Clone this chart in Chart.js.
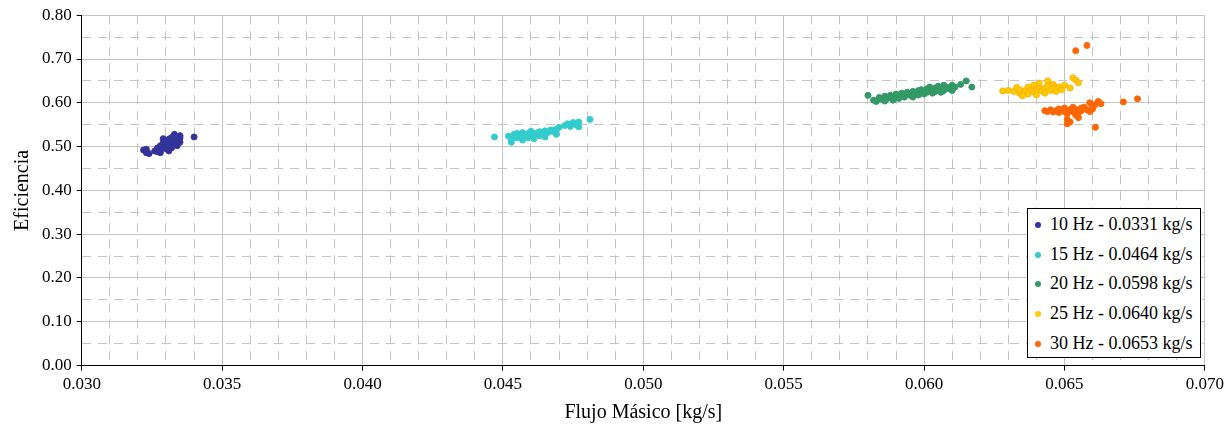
<!DOCTYPE html>
<html>
<head>
<meta charset="utf-8">
<script src="https://cdn.jsdelivr.net/npm/chart.js@4"></script>
<style>
  html, body { margin: 0; padding: 0; background: #fff; overflow: hidden; }
  #wrap { position: relative; width: 1228px; height: 426px; }
  #legend {
    position: absolute; left: 1027px; top: 208px; width: 174px; height: 150px;
    border: 1px solid #000; background: #fff; box-sizing: border-box;
    font-family: 'Liberation Serif', 'Times New Roman', serif; font-size: 18px; color: #000;
    padding-top: 1px;
  }
  #legend .row { height: 29.7px; line-height: 29.7px; white-space: nowrap; position: relative; padding-left: 22px; }
  #legend .dot { position: absolute; left: 7px; top: 12px; width: 6px; height: 6px; border-radius: 50%; }
</style>
</head>
<body>
<div id="wrap">
  <canvas id="effChart"></canvas>
  <div id="legend"></div>
</div>
<script>
const ctx = document.getElementById('effChart').getContext('2d');

const seriesLabels = [
    '10 Hz - 0.0331 kg/s',
    '15 Hz - 0.0464 kg/s',
    '20 Hz - 0.0598 kg/s',
    '25 Hz - 0.0640 kg/s',
    '30 Hz - 0.0653 kg/s'
];

const pointColor = ['#333399', '#33CCCC', '#339966', '#FFCC00', '#FF6600'];
const pointBorder = ['#333399', '#33CCCC', '#339966', '#FFB000', '#FF6600'];

// [flujo masico, eficiencia]
const hz10 = [
    [0.0322,0.492],[0.0323,0.486],[0.0324,0.484],[0.0323,0.494],[0.0326,0.490],[0.0327,0.497],
    [0.0327,0.488],[0.0328,0.502],[0.0328,0.492],[0.0329,0.499],[0.0329,0.508],[0.0329,0.518],
    [0.0330,0.495],[0.0330,0.503],[0.0330,0.512],[0.0331,0.500],[0.0331,0.509],[0.0331,0.517],
    [0.0332,0.504],[0.0332,0.521],[0.0332,0.497],[0.0333,0.512],[0.0333,0.528],[0.0333,0.506],
    [0.0334,0.515],[0.0334,0.502],[0.0335,0.520],[0.0335,0.525],[0.0335,0.510],[0.0340,0.522],
    [0.0330,0.510],[0.0331,0.490],[0.0328,0.486]
];

const hz15 = [
    [0.0447,0.522],[0.0452,0.524],[0.0453,0.516],[0.0453,0.510],[0.0454,0.528],[0.0455,0.520],
    [0.0455,0.530],[0.0456,0.524],[0.0457,0.515],[0.0457,0.532],[0.0458,0.526],[0.0459,0.520],
    [0.0459,0.530],[0.0460,0.535],[0.0460,0.524],[0.0461,0.528],[0.0461,0.518],[0.0462,0.531],
    [0.0463,0.525],[0.0463,0.534],[0.0464,0.529],[0.0465,0.536],[0.0465,0.522],[0.0466,0.532],
    [0.0467,0.538],[0.0468,0.534],[0.0469,0.540],[0.0469,0.528],[0.0470,0.544],[0.0472,0.548],
    [0.0473,0.552],[0.0474,0.546],[0.0475,0.555],[0.0476,0.550],[0.0477,0.556],[0.0477,0.545],
    [0.0481,0.562]
];

const hz20 = [
    [0.0580,0.617],[0.0582,0.606],[0.0583,0.603],[0.0584,0.612],[0.0585,0.608],[0.0586,0.615],
    [0.0586,0.604],[0.0587,0.610],[0.0588,0.617],[0.0588,0.612],[0.0589,0.606],[0.0590,0.614],
    [0.0590,0.620],[0.0591,0.610],[0.0592,0.617],[0.0592,0.622],[0.0593,0.613],[0.0593,0.619],
    [0.0594,0.624],[0.0595,0.617],[0.0595,0.621],[0.0596,0.626],[0.0596,0.613],[0.0597,0.620],
    [0.0597,0.624],[0.0598,0.628],[0.0598,0.618],[0.0599,0.623],[0.0599,0.630],[0.0600,0.626],
    [0.0600,0.620],[0.0601,0.632],[0.0601,0.624],[0.0602,0.628],[0.0602,0.636],[0.0603,0.622],
    [0.0603,0.630],[0.0604,0.634],[0.0604,0.626],[0.0605,0.638],[0.0605,0.630],[0.0606,0.633],
    [0.0606,0.624],[0.0607,0.640],[0.0607,0.628],[0.0608,0.636],[0.0609,0.632],[0.0610,0.640],
    [0.0610,0.628],[0.0611,0.636],[0.0613,0.642],[0.0615,0.650],[0.0617,0.636]
];

const hz25 = [
    [0.0628,0.627],[0.0630,0.628],[0.0632,0.626],[0.0633,0.635],[0.0634,0.622],[0.0634,0.630],
    [0.0635,0.616],[0.0636,0.628],[0.0637,0.636],[0.0637,0.620],[0.0638,0.632],[0.0639,0.625],
    [0.0639,0.640],[0.0640,0.630],[0.0640,0.618],[0.0641,0.636],[0.0641,0.645],[0.0642,0.627],
    [0.0643,0.633],[0.0643,0.622],[0.0644,0.650],[0.0644,0.638],[0.0645,0.628],[0.0646,0.642],
    [0.0646,0.632],[0.0647,0.626],[0.0648,0.636],[0.0649,0.630],[0.0650,0.640],[0.0652,0.634],
    [0.0653,0.657],[0.0654,0.652],[0.0655,0.646]
];

const hz30 = [
    [0.0643,0.582],[0.0644,0.580],[0.0645,0.584],[0.0646,0.579],[0.0647,0.582],[0.0648,0.586],
    [0.0648,0.578],[0.0649,0.583],[0.0650,0.580],[0.0650,0.588],[0.0651,0.575],[0.0651,0.562],
    [0.0651,0.552],[0.0652,0.584],[0.0652,0.556],[0.0653,0.580],[0.0653,0.590],[0.0654,0.585],
    [0.0654,0.572],[0.0655,0.578],[0.0655,0.566],[0.0656,0.588],[0.0656,0.582],[0.0657,0.590],
    [0.0658,0.584],[0.0659,0.580],[0.0659,0.600],[0.0660,0.592],[0.0660,0.586],[0.0661,0.596],
    [0.0661,0.544],[0.0662,0.603],[0.0663,0.598],[0.0671,0.602],[0.0676,0.609],[0.0654,0.719],
    [0.0658,0.731]
];

const allSeries = [hz10, hz15, hz20, hz25, hz30];

const xMajor = 0.005;
const yMajor = 0.1;
const isMajor = (v, step) => Math.abs(v / step - Math.round(v / step)) < 1e-6;

const serif = "'Liberation Serif', 'Times New Roman', serif";
const tickFont = {family: serif, size: 17};
const titleFont = {family: serif, size: 20};

const datasets = allSeries.map((s, i) => ({
    label: seriesLabels[i],
    data: s.map(p => ({x: p[0], y: p[1]})),
    backgroundColor: pointColor[i],
    borderColor: pointBorder[i],
    borderWidth: 1,
    pointRadius: 3,
    pointHoverRadius: 3
}));

const config = {
    type: 'scatter',
    data: {datasets: datasets},
    options: {
        responsive: true,
        maintainAspectRatio: false,
        animation: false,
        layout: {padding: {top: 8, left: 11, right: 0, bottom: 1}},
        plugins: {
            legend: {display: false},
            tooltip: {enabled: false}
        },
        scales: {
            x: {
                type: 'linear',
                min: 0.03,
                max: 0.07,
                ticks: {
                    stepSize: 0.001,
                    autoSkip: false,
                    maxRotation: 0,
                    color: '#000',
                    font: tickFont,
                    padding: 4,
                    callback: v => isMajor(v, xMajor) ? v.toFixed(3) : ''
                },
                grid: {
                    color: '#c4c4c4',
                    lineWidth: 1,
                    tickLength: 5,
                    tickColor: c => (c.tick && isMajor(c.tick.value, xMajor)) ? '#000' : 'rgba(0,0,0,0)'
                },
                border: {
                    color: '#000',
                    width: 1,
                    dash: c => (c.tick && !isMajor(c.tick.value, xMajor)) ? [9, 7] : []
                },
                title: {
                    display: true,
                    text: 'Flujo Másico [kg/s]',
                    color: '#000',
                    font: titleFont,
                    padding: {top: 2, bottom: 0}
                }
            },
            y: {
                min: 0,
                max: 0.8,
                ticks: {
                    stepSize: 0.05,
                    autoSkip: false,
                    color: '#000',
                    font: tickFont,
                    padding: 5,
                    callback: v => isMajor(v, yMajor) ? v.toFixed(2) : ''
                },
                grid: {
                    color: '#c4c4c4',
                    lineWidth: 1,
                    tickLength: 5,
                    tickColor: c => (c.tick && isMajor(c.tick.value, yMajor)) ? '#000' : 'rgba(0,0,0,0)'
                },
                border: {
                    color: '#000',
                    width: 1,
                    dash: c => (c.tick && !isMajor(c.tick.value, yMajor)) ? [9, 7] : []
                },
                title: {
                    display: true,
                    text: 'Eficiencia',
                    color: '#000',
                    font: titleFont,
                    padding: {top: 0, bottom: 2}
                }
            }
        }
    }
};

const effChart = new Chart(ctx, config);

// leyenda dentro del area del grafico
const legendBox = document.getElementById('legend');
seriesLabels.forEach((lab, i) => {
    const row = document.createElement('div');
    row.className = 'row';
    const dot = document.createElement('span');
    dot.className = 'dot';
    dot.style.background = pointColor[i];
    row.appendChild(dot);
    row.appendChild(document.createTextNode(lab));
    legendBox.appendChild(row);
});
</script>
</body>
</html>
